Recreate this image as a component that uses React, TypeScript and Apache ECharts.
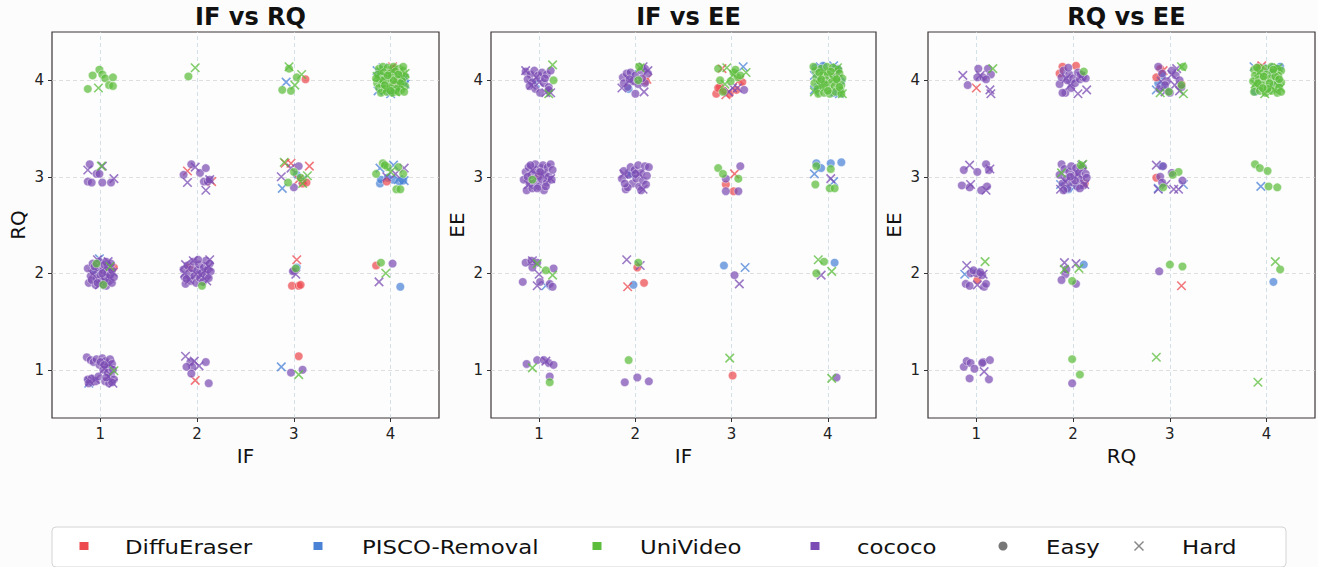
import React, { useEffect, useRef } from "react";
import * as echarts from "echarts";

type Pt = [number, number];

const MODELS = ["DiffuEraser", "PISCO-Removal", "UniVideo", "cococo"];
const PANEL_TITLES = ["IF vs RQ", "IF vs EE", "RQ vs EE"];
const X_NAMES = ["IF", "IF", "RQ"];
const Y_NAMES = ["RQ", "EE", "EE"];
const TICKS = [1, 2, 3, 4];
const DIFFICULTY = ["Easy", "Hard"];

// ---------- Panel 1 : IF vs RQ ----------
const IFRQ_DiffuEraser_easy: Pt[] = [
  [3.12, 4.01], [4.03, 4.12], [4.06, 3.98], [3.09, 2.93], [3.13, 2.94], [3.96, 2.95],
  [1.14, 2.06], [1.92, 2.06], [2.98, 1.87], [3.05, 1.87], [3.07, 1.88], [3.85, 2.08], [3.05, 1.14],
];
const IFRQ_DiffuEraser_hard: Pt[] = [
  [4.02, 4.14], [1.9, 3.06], [2.15, 2.95], [2.91, 3.14], [2.97, 3.14], [3.16, 3.11], [3.05, 2.97],
  [3.03, 2.14], [1.98, 0.89],
];
const IFRQ_PISCO_easy: Pt[] = [
  [3.9, 3.97], [3.95, 4.03], [4.12, 4.02], [3.99, 3.88], [4.08, 3.93], [3.88, 4.05], [4.14, 3.99],
  [3.89, 2.93], [3.9, 2.97], [4.02, 2.97], [4.09, 2.95], [4.13, 2.96], [3.97, 2.99],
  [3.03, 3.02], [3.03, 2.06], [4.1, 1.86], [0.95, 2.02],
];
const IFRQ_PISCO_hard: Pt[] = [
  [2.92, 3.98], [3.86, 4.1], [3.87, 3.89], [4.14, 4.02], [4.15, 3.96], [4.0, 3.86], [3.92, 4.13],
  [2.88, 2.88], [3.09, 2.97], [3.89, 3.09], [4.03, 3.12], [4.14, 2.96], [4.08, 2.97],
  [0.99, 2.15], [0.88, 0.86], [2.87, 1.03],
];
const IFRQ_UniVideo_easy: Pt[] = [
  [0.92, 4.05], [0.99, 4.11], [1.02, 4.06], [1.05, 4.02], [1.09, 3.95], [1.13, 3.94], [1.13, 4.03], [0.87, 3.91],
  [1.91, 4.04], [3.03, 4.03], [2.88, 3.9], [2.97, 3.89], [2.95, 4.12],
  [3.88, 4.12], [3.92, 4.14], [3.97, 4.13], [4.03, 4.14], [4.09, 4.12], [4.13, 4.1], [3.87, 4.06], [3.93, 4.08],
  [3.99, 4.07], [4.05, 4.09], [4.11, 4.05], [4.15, 4.04], [3.89, 4.01], [3.95, 4.02], [4.01, 4.03], [4.07, 4.01],
  [4.12, 3.99], [3.86, 3.97], [3.91, 3.96], [3.98, 3.98], [4.04, 3.96], [4.1, 3.97], [4.15, 3.94], [3.88, 3.92],
  [3.94, 3.91], [4.0, 3.93], [4.06, 3.91], [4.11, 3.9], [3.9, 3.87], [3.96, 3.88], [4.02, 3.87], [4.08, 3.88],
  [4.14, 3.88], [3.92, 4.0], [4.03, 4.0], [3.97, 4.05], [4.08, 4.06], [3.85, 4.02], [4.0, 3.89], [4.13, 4.14], [3.94, 3.95],
  [2.94, 2.94], [3.0, 3.05], [3.07, 2.99],
  [3.85, 3.03], [3.92, 3.14], [3.97, 3.1], [4.08, 3.1], [4.13, 3.03], [4.06, 2.87], [4.1, 2.87], [3.94, 3.12],
  [0.96, 2.1], [1.03, 1.88], [2.05, 1.87], [3.02, 2.05], [3.9, 2.11],
];
const IFRQ_UniVideo_hard: Pt[] = [
  [0.98, 3.92], [1.98, 4.13], [2.95, 4.14], [3.01, 3.95], [3.08, 4.06],
  [3.86, 4.04], [4.15, 4.07], [4.02, 4.1], [3.95, 3.9], [4.1, 3.95], [3.9, 4.09], [4.05, 3.88],
  [1.01, 3.11], [2.9, 3.15], [3.14, 3.01], [3.09, 2.93], [4.0, 3.05],
  [1.1, 2.07], [3.95, 2.0], [1.14, 0.99], [3.05, 0.95],
];
const IFRQ_cococo_easy: Pt[] = [
  [0.89, 3.13], [0.87, 2.95], [0.91, 2.94], [0.96, 3.03], [0.99, 3.03], [1.02, 2.94], [1.11, 2.94],
  [1.86, 3.02], [1.94, 3.13], [2.03, 3.04], [2.09, 3.09], [2.07, 2.95], [2.11, 2.95], [2.13, 2.97],
  [3.05, 3.11], [3.0, 2.89],
  [0.87, 2.05], [0.9, 1.97], [0.88, 1.9], [0.92, 2.1], [0.93, 2.02], [0.95, 1.88], [0.96, 1.95], [0.98, 2.06],
  [0.99, 2.12], [1.0, 1.98], [1.01, 1.91], [1.03, 2.03], [1.04, 2.09], [1.05, 1.95], [1.06, 1.87], [1.07, 2.0],
  [1.08, 2.06], [1.09, 1.92], [1.1, 1.98], [1.12, 2.03], [1.12, 1.9], [1.14, 1.96], [0.91, 1.93], [0.94, 2.07],
  [1.02, 2.0], [1.06, 2.12], [0.97, 1.9], [1.11, 2.1],
  [1.86, 2.04], [1.87, 1.96], [1.88, 1.89], [1.9, 2.08], [1.92, 2.0], [1.93, 1.92], [1.95, 2.05], [1.96, 2.12],
  [1.97, 1.97], [1.99, 1.9], [2.0, 2.03], [2.02, 2.09], [2.03, 1.95], [2.05, 2.0], [2.06, 1.91], [2.07, 2.06],
  [2.09, 2.13], [2.1, 1.98], [2.11, 2.04], [2.13, 2.1], [2.14, 2.02], [1.89, 1.94], [2.01, 2.14], [2.12, 1.95],
  [3.0, 2.03], [2.99, 2.02], [4.02, 2.1],
  [0.86, 1.13], [0.9, 1.1], [0.93, 1.08], [0.96, 1.11], [0.99, 1.05], [1.02, 1.12], [1.05, 1.09], [1.07, 1.03],
  [1.1, 1.11], [1.12, 1.06], [1.03, 1.0], [1.08, 0.97], [1.11, 0.94], [1.14, 0.9], [0.87, 0.9], [0.91, 0.91],
  [0.95, 0.88], [0.98, 0.93], [1.05, 0.88], [1.09, 0.86], [1.12, 0.87], [0.88, 0.86], [1.0, 1.08], [1.06, 0.92],
  [1.13, 1.0], [1.04, 1.05],
  [1.93, 1.08], [1.95, 1.03], [1.89, 1.03], [1.94, 0.96], [2.09, 1.08], [2.12, 0.86], [2.97, 0.97], [3.09, 1.0],
];
const IFRQ_cococo_hard: Pt[] = [
  [0.87, 3.07], [1.02, 3.11], [1.14, 2.98], [1.9, 2.94], [1.98, 3.1], [2.09, 2.86], [2.13, 2.97],
  [2.87, 3.0], [2.97, 3.09], [4.14, 3.09], [3.96, 3.0], [4.05, 3.03],
  [0.97, 2.14], [1.08, 2.12], [0.92, 1.99], [1.04, 1.93], [1.13, 2.01], [0.99, 1.88], [1.1, 1.95], [1.06, 2.07],
  [1.88, 2.09], [1.96, 2.13], [2.13, 2.14], [2.12, 2.07], [1.92, 1.93], [2.04, 1.98], [2.08, 2.03], [1.99, 1.99],
  [1.87, 2.0], [2.1, 1.92], [3.02, 1.99], [3.88, 1.91],
  [0.89, 0.88], [0.95, 0.9], [1.04, 1.01], [1.1, 1.06], [1.13, 0.86], [1.08, 0.93],
  [1.88, 1.14], [2.02, 1.04], [1.97, 1.09],
];

// ---------- Panel 2 : IF vs EE ----------
const IFEE_DiffuEraser_easy: Pt[] = [
  [2.84, 3.86], [2.88, 3.93], [2.98, 3.86], [3.11, 3.98], [2.92, 3.89], [3.05, 3.9], [2.86, 3.92], [2.11, 3.99],
  [1.0, 3.02], [2.94, 2.92], [3.02, 2.85], [2.02, 2.06], [2.09, 1.9], [3.01, 0.94],
];
const IFEE_DiffuEraser_hard: Pt[] = [
  [2.94, 3.85], [2.9, 4.12], [3.08, 4.0], [2.12, 4.01], [3.03, 3.03], [1.92, 1.86],
];
const IFEE_PISCO_easy: Pt[] = [
  [1.93, 3.91], [3.87, 4.13], [3.95, 4.15], [4.1, 4.12], [3.89, 3.93], [4.06, 3.87], [4.14, 3.99],
  [3.88, 3.14], [3.93, 3.09], [4.03, 3.14], [4.14, 3.15], [1.96, 3.03],
  [1.98, 1.88], [2.92, 2.08], [4.07, 2.11],
];
const IFEE_PISCO_hard: Pt[] = [
  [0.96, 3.97], [3.12, 4.14], [3.86, 3.9], [3.92, 4.14], [4.06, 4.15], [4.12, 3.86], [3.86, 4.05], [1.96, 4.06],
  [1.94, 3.03], [3.86, 3.03], [4.06, 2.95], [1.07, 1.87], [3.14, 2.06],
];
const IFEE_UniVideo_easy: Pt[] = [
  [1.15, 4.0], [2.04, 4.14], [2.03, 4.0],
  [2.86, 4.12], [2.88, 4.0], [3.02, 4.08], [3.06, 4.03], [2.99, 3.99], [3.04, 4.11], [3.09, 4.05], [2.91, 3.88],
  [3.87, 4.1], [3.93, 4.12], [3.99, 4.14], [4.05, 4.13], [4.11, 4.11], [3.88, 4.03], [3.94, 4.05], [4.0, 4.06],
  [4.06, 4.04], [4.12, 4.07], [4.15, 4.02], [3.86, 3.97], [3.92, 3.99], [3.98, 4.0], [4.04, 3.98], [4.1, 3.99],
  [4.14, 3.95], [3.89, 3.91], [3.95, 3.93], [4.01, 3.92], [4.07, 3.94], [4.13, 3.9], [3.9, 3.86], [3.96, 3.87],
  [4.02, 3.86], [4.08, 3.88], [4.14, 3.86], [3.91, 4.08], [4.03, 4.09], [3.97, 3.96], [4.09, 4.01], [3.85, 4.14],
  [4.0, 3.89], [4.12, 3.93], [3.93, 4.01],
  [0.93, 2.97], [2.86, 3.09], [2.91, 3.03], [3.07, 2.98],
  [3.88, 3.11], [3.87, 2.92], [4.03, 3.08], [4.02, 2.88], [4.07, 2.88],
  [1.07, 2.03], [2.03, 2.11], [3.96, 2.12], [3.88, 2.0], [1.11, 0.87], [1.93, 1.1],
];
const IFEE_UniVideo_hard: Pt[] = [
  [1.14, 4.16], [1.1, 3.86], [2.05, 4.13], [2.95, 4.13], [3.15, 4.08], [3.02, 4.06], [2.93, 3.96],
  [3.86, 3.88], [4.15, 3.86], [4.1, 4.13], [3.92, 3.95], [4.06, 4.01], [3.96, 4.09],
  [0.98, 2.1], [1.14, 1.98], [3.9, 2.14], [4.04, 2.02], [0.93, 1.02], [2.98, 1.12], [4.04, 0.91],
];
const IFEE_cococo_easy: Pt[] = [
  [0.86, 4.09], [0.91, 4.06], [0.95, 4.1], [0.99, 4.05], [1.03, 4.08], [1.08, 4.06], [1.12, 4.1], [0.88, 4.01],
  [0.93, 3.98], [1.05, 3.97], [1.1, 3.93], [0.96, 3.91], [1.01, 3.87], [1.1, 3.9], [0.9, 3.94], [1.06, 4.02],
  [1.87, 4.03], [1.91, 4.07], [1.95, 4.08], [2.0, 4.05], [2.06, 4.1], [2.1, 4.12], [2.13, 4.07], [1.88, 3.97],
  [1.92, 3.93], [1.98, 3.99], [2.03, 3.96], [2.1, 3.97], [2.0, 3.86], [2.07, 4.02], [1.94, 4.01], [3.13, 3.9],
  [0.84, 2.97], [0.86, 3.05], [0.87, 2.86], [0.89, 3.1], [0.9, 2.93], [0.92, 3.02], [0.93, 2.88], [0.95, 3.07],
  [0.96, 3.13], [0.97, 2.95], [0.99, 3.0], [1.0, 2.9], [1.02, 3.09], [1.03, 2.97], [1.04, 3.12], [1.05, 2.86],
  [1.06, 3.04], [1.08, 2.94], [1.09, 3.1], [1.1, 3.0], [1.12, 3.13], [1.13, 2.97], [1.14, 3.07], [0.91, 3.12],
  [0.98, 2.88], [1.07, 2.9], [0.88, 3.0], [1.01, 3.05],
  [1.86, 2.98], [1.88, 3.06], [1.9, 2.87], [1.93, 3.02], [1.95, 3.1], [1.97, 2.93], [1.99, 3.07], [2.01, 2.98],
  [2.03, 3.12], [2.04, 2.9], [2.06, 3.04], [2.08, 2.96], [2.1, 3.11], [2.12, 3.01], [2.14, 3.1], [2.06, 2.86],
  [1.92, 2.89], [2.0, 3.03], [1.89, 2.93], [2.11, 2.92],
  [2.94, 2.98], [3.09, 3.11], [2.94, 2.85], [3.07, 2.85],
  [0.86, 2.11], [0.92, 2.13], [0.98, 2.11], [0.83, 1.91], [0.93, 2.06], [1.01, 1.91], [1.11, 1.89], [1.15, 2.05],
  [1.14, 1.86], [3.03, 1.98],
  [0.87, 1.06], [0.98, 1.1], [1.05, 1.1], [1.1, 1.07], [1.15, 1.05], [1.11, 0.93],
  [1.89, 0.87], [2.02, 0.92], [2.14, 0.88], [4.09, 0.92],
];
const IFEE_cococo_hard: Pt[] = [
  [0.86, 4.1], [0.92, 3.95], [1.0, 3.98], [1.07, 3.87], [1.12, 3.87], [0.97, 4.03],
  [1.86, 3.92], [2.09, 3.88], [2.13, 4.1], [2.08, 4.14], [1.94, 4.0],
  [3.01, 3.92], [3.06, 3.92], [2.97, 3.88], [3.95, 4.0], [4.1, 4.08],
  [0.93, 3.07], [1.12, 2.98], [1.03, 3.02], [0.89, 2.92], [1.88, 3.03], [2.08, 2.87], [2.04, 3.03], [4.03, 2.98],
  [1.0, 1.99], [0.98, 1.87], [0.93, 2.13], [1.91, 2.14], [2.05, 2.08], [3.08, 1.89], [3.93, 1.98], [1.07, 1.09],
];

// ---------- Panel 3 : RQ vs EE ----------
const RQEE_DiffuEraser_easy: Pt[] = [
  [1.89, 4.14], [2.03, 4.15], [1.86, 4.07], [2.86, 4.03], [3.12, 3.96], [2.9, 4.12], [3.92, 4.14],
  [2.12, 2.93], [2.86, 2.99], [1.01, 1.93],
];
const RQEE_DiffuEraser_hard: Pt[] = [[1.0, 3.92], [2.93, 4.1], [3.95, 4.15], [3.12, 1.87]];
const RQEE_PISCO_easy: Pt[] = [
  [2.88, 3.97], [2.92, 4.05], [3.88, 3.88], [4.14, 4.14], [4.05, 4.08],
  [1.95, 2.87], [2.92, 3.11], [2.11, 2.09], [4.07, 1.91],
];
const RQEE_PISCO_hard: Pt[] = [
  [2.86, 3.9], [2.95, 3.93], [3.87, 4.14], [4.02, 4.13], [4.1, 3.98],
  [1.87, 2.92], [2.01, 2.89], [3.14, 2.92], [2.88, 2.88], [3.94, 2.9], [0.88, 1.99], [0.99, 2.01],
];
const RQEE_UniVideo_easy: Pt[] = [
  [2.11, 4.09], [3.12, 3.95], [3.14, 4.14], [2.99, 3.88],
  [3.87, 4.11], [3.93, 4.13], [3.99, 4.12], [4.05, 4.14], [4.11, 4.12], [4.15, 4.1], [3.88, 4.05], [3.94, 4.07],
  [4.0, 4.06], [4.06, 4.08], [4.12, 4.05], [3.86, 3.99], [3.92, 4.01], [3.98, 4.0], [4.04, 4.02], [4.1, 4.0],
  [4.15, 3.98], [3.89, 3.94], [3.95, 3.95], [4.01, 3.93], [4.07, 3.95], [4.13, 3.93], [3.87, 3.88], [3.93, 3.89],
  [3.99, 3.87], [4.05, 3.89], [4.11, 3.87], [4.15, 3.88], [3.91, 3.97], [4.03, 3.97], [3.97, 4.04], [4.09, 4.04],
  [3.9, 4.13], [4.01, 3.91], [4.13, 4.01], [3.96, 3.92], [4.07, 4.11],
  [3.09, 3.05], [3.03, 3.02], [2.93, 2.89], [3.88, 3.13], [3.93, 3.09], [4.01, 3.06], [4.02, 2.9], [4.11, 2.89],
  [2.08, 3.12], [1.99, 1.92], [3.0, 2.09], [3.13, 2.07], [4.14, 2.04], [1.99, 1.11], [2.07, 0.95],
];
const RQEE_UniVideo_hard: Pt[] = [
  [1.17, 4.12], [3.14, 3.86], [3.12, 4.14], [2.9, 3.87],
  [3.88, 3.96], [4.12, 4.13], [3.98, 3.86], [4.14, 3.92], [3.92, 4.08], [4.08, 3.9],
  [1.88, 3.04], [2.1, 3.13], [1.09, 2.12], [1.91, 2.04], [2.06, 2.05], [4.09, 2.12], [2.86, 1.13], [3.91, 0.87],
];
const RQEE_cococo_easy: Pt[] = [
  [0.91, 3.95], [1.02, 4.12], [1.01, 4.03], [1.07, 4.03], [1.12, 4.12], [1.15, 4.06], [1.1, 4.01],
  [1.86, 3.96], [1.88, 4.03], [1.9, 4.1], [1.92, 3.87], [1.94, 4.0], [1.96, 4.06], [1.98, 3.92], [2.0, 4.02],
  [2.02, 3.97], [2.05, 4.08], [2.07, 4.01], [2.1, 4.03], [2.13, 4.02], [1.89, 3.87], [2.08, 4.06], [1.95, 4.13],
  [2.88, 4.14], [2.92, 4.07], [2.97, 3.99], [3.02, 4.1], [3.06, 4.05], [3.1, 4.0], [3.12, 3.93], [2.89, 3.91],
  [3.0, 3.87], [2.95, 3.95],
  [0.87, 3.07], [1.01, 3.05], [1.1, 3.13], [1.13, 3.07], [0.85, 2.91], [0.93, 2.89], [1.05, 2.86], [1.11, 2.9],
  [1.86, 3.02], [1.88, 3.13], [1.89, 2.93], [1.91, 3.08], [1.93, 2.98], [1.94, 2.88], [1.96, 3.05], [1.98, 3.11],
  [1.99, 2.94], [2.01, 3.01], [2.03, 3.09], [2.04, 2.9], [2.06, 3.04], [2.08, 2.97], [2.1, 3.1], [2.11, 2.91],
  [2.13, 3.03], [1.9, 2.86], [2.02, 2.96], [2.07, 2.88], [2.14, 2.99], [1.97, 3.0],
  [2.93, 3.11], [3.02, 3.04], [2.9, 3.0], [2.92, 2.94], [3.13, 2.96],
  [0.94, 2.0], [1.0, 2.0], [1.06, 1.98], [0.89, 1.89], [0.93, 1.87], [1.08, 1.86], [1.1, 1.89], [0.97, 2.03],
  [1.04, 2.01], [1.92, 1.99], [1.88, 1.93], [2.03, 1.89], [1.93, 2.04], [2.89, 2.02],
  [0.87, 1.03], [0.9, 1.09], [0.94, 1.07], [0.98, 1.01], [1.07, 1.08], [1.14, 1.1], [0.93, 0.91], [1.13, 0.9],
  [1.06, 1.07], [1.99, 0.86],
];
const RQEE_cococo_hard: Pt[] = [
  [0.86, 4.05], [1.04, 4.05], [1.14, 3.9], [1.15, 3.86],
  [2.05, 3.86], [2.14, 3.9], [1.93, 4.02], [2.08, 4.04], [1.97, 3.95],
  [3.02, 4.06], [3.05, 3.95], [3.1, 3.89], [2.95, 3.88], [2.91, 3.99], [3.07, 4.12],
  [0.93, 3.12], [0.94, 2.92], [1.14, 3.08], [1.1, 2.86],
  [1.87, 2.87], [2.09, 3.12], [1.92, 2.95], [2.05, 3.03], [2.12, 2.92],
  [2.86, 3.12], [2.88, 2.87], [3.04, 2.87], [3.09, 2.87], [2.96, 2.92],
  [0.9, 2.08], [1.01, 1.88], [1.07, 1.99], [1.91, 2.11], [2.03, 2.1], [1.08, 0.98],
];

// panel -> model (MODELS order) -> [easy, hard]
const PANEL_DATA: Pt[][][][] = [
  [
    [IFRQ_DiffuEraser_easy, IFRQ_DiffuEraser_hard],
    [IFRQ_PISCO_easy, IFRQ_PISCO_hard],
    [IFRQ_UniVideo_easy, IFRQ_UniVideo_hard],
    [IFRQ_cococo_easy, IFRQ_cococo_hard],
  ],
  [
    [IFEE_DiffuEraser_easy, IFEE_DiffuEraser_hard],
    [IFEE_PISCO_easy, IFEE_PISCO_hard],
    [IFEE_UniVideo_easy, IFEE_UniVideo_hard],
    [IFEE_cococo_easy, IFEE_cococo_hard],
  ],
  [
    [RQEE_DiffuEraser_easy, RQEE_DiffuEraser_hard],
    [RQEE_PISCO_easy, RQEE_PISCO_hard],
    [RQEE_UniVideo_easy, RQEE_UniVideo_hard],
    [RQEE_cococo_easy, RQEE_cococo_hard],
  ],
];

// styling
const COLORS = ["#ec4a4f", "#4a82d6", "#5cbd3c", "#7b4cb3"];
const DRAW_ORDER = [1, 0, 3, 2];
const FONT = "DejaVu Sans";
const GRIDS = [
  { left: 52, top: 32, width: 387, height: 386 },
  { left: 491, top: 32, width: 385, height: 386 },
  { left: 928, top: 32, width: 387, height: 386 },
];
const X_SYMBOL = "path://M0,0L10,10M10,0L0,10";

export default function App() {
  const ref = useRef<HTMLDivElement>(null);

  useEffect(() => {
    if (!ref.current) return;
    const chart = echarts.init(ref.current, null, { renderer: "svg" });

    const series: any[] = [];
    GRIDS.forEach((_, gi) => {
      series.push({
        type: "scatter",
        xAxisIndex: gi,
        yAxisIndex: gi,
        data: [],
        silent: true,
        z: 1,
        markLine: {
          silent: true,
          symbol: ["none", "none"],
          label: { show: false },
          z: 1,
          animation: false,
          data: [
            ...TICKS.map((v) => ({ xAxis: v, lineStyle: { color: "#c9d8e2", type: [4, 3], width: 0.8 } })),
            ...TICKS.map((v) => ({ yAxis: v, lineStyle: { color: "#d6d6d6", type: [4, 3], width: 0.8 } })),
          ],
        },
      });
      DRAW_ORDER.forEach((mi) => {
        const [easy, hard] = PANEL_DATA[gi][mi];
        series.push({
          type: "scatter",
          name: MODELS[mi] + " " + DIFFICULTY[0],
          xAxisIndex: gi,
          yAxisIndex: gi,
          z: 2,
          symbol: "circle",
          symbolSize: 8.5,
          silent: true,
          itemStyle: { color: COLORS[mi], opacity: 0.72, borderColor: "#ffffff", borderWidth: 0.6 },
          data: easy,
        });
        series.push({
          type: "scatter",
          name: MODELS[mi] + " " + DIFFICULTY[1],
          xAxisIndex: gi,
          yAxisIndex: gi,
          z: 2,
          symbol: X_SYMBOL,
          symbolSize: 8.5,
          silent: true,
          itemStyle: { color: COLORS[mi], opacity: 0.75, borderColor: COLORS[mi], borderWidth: 1.6 },
          data: hard,
        });
      });
    });

    const axisCommon = {
      type: "value",
      min: 0.5,
      max: 4.5,
      nameLocation: "middle",
      nameTextStyle: { fontFamily: FONT, fontSize: 20, color: "#111" },
      axisLine: { show: false },
      splitLine: { show: false },
      axisTick: { show: true, length: 4, customValues: TICKS, lineStyle: { color: "#333", width: 1 } },
      axisLabel: {
        customValues: TICKS,
        fontFamily: FONT,
        fontSize: 15,
        color: "#222",
        margin: 8,
      },
    };

    const legendItems: any[] = [
      { type: "rect", shape: { x: 52, y: 527, width: 1234, height: 40, r: 4 }, style: { fill: "#ffffff", stroke: "#d4d4d4", lineWidth: 1 } },
    ];
    const squareX = [84, 318, 597, 815];
    const textX = [125, 362, 640, 857];
    MODELS.forEach((m, i) => {
      legendItems.push({ type: "rect", shape: { x: squareX[i] - 4.5, y: 542, width: 9, height: 8 }, style: { fill: COLORS[i] } });
      legendItems.push({
        type: "text", x: textX[i], y: 547, scaleX: 1.17,
        style: { text: m, fontFamily: FONT, fontSize: 19.5, fill: "#111", verticalAlign: "middle", align: "left" },
      });
    });
    legendItems.push({ type: "circle", shape: { cx: 1003, cy: 546, r: 4.5 }, style: { fill: "#777" } });
    legendItems.push({
      type: "text", x: 1046, y: 547, scaleX: 1.17,
      style: { text: DIFFICULTY[0], fontFamily: FONT, fontSize: 19.5, fill: "#111", verticalAlign: "middle", align: "left" },
    });
    legendItems.push({ type: "line", shape: { x1: 1134.5, y1: 541.5, x2: 1143.5, y2: 550.5 }, style: { stroke: "#888", lineWidth: 1.5 } });
    legendItems.push({ type: "line", shape: { x1: 1143.5, y1: 541.5, x2: 1134.5, y2: 550.5 }, style: { stroke: "#888", lineWidth: 1.5 } });
    legendItems.push({
      type: "text", x: 1182, y: 547, scaleX: 1.17,
      style: { text: DIFFICULTY[1], fontFamily: FONT, fontSize: 19.5, fill: "#111", verticalAlign: "middle", align: "left" },
    });

    chart.setOption({
      animation: false,
      backgroundColor: "#fcfcfd",
      title: GRIDS.map((g, i) => ({
        text: PANEL_TITLES[i],
        left: g.left + g.width / 2,
        top: 0,
        textAlign: "center",
        textStyle: { fontFamily: FONT, fontSize: 24, fontWeight: "bold", color: "#111" },
      })),
      grid: GRIDS.map((g) => ({
        ...g,
        show: true,
        backgroundColor: "#fdfdfe",
        borderColor: "#3c3434",
        borderWidth: 1.2,
        containLabel: false,
      })),
      xAxis: GRIDS.map((_, i) => ({ ...axisCommon, gridIndex: i, name: X_NAMES[i], nameGap: 28 })),
      yAxis: GRIDS.map((_, i) => ({ ...axisCommon, gridIndex: i, name: Y_NAMES[i], nameGap: 24 })),
      graphic: legendItems,
      series,
    });

    return () => chart.dispose();
  }, []);

  return (
    <div
      ref={ref}
      style={{ position: "fixed", left: 0, top: 0, width: 1318, height: 567 }}
    />
  );
}
